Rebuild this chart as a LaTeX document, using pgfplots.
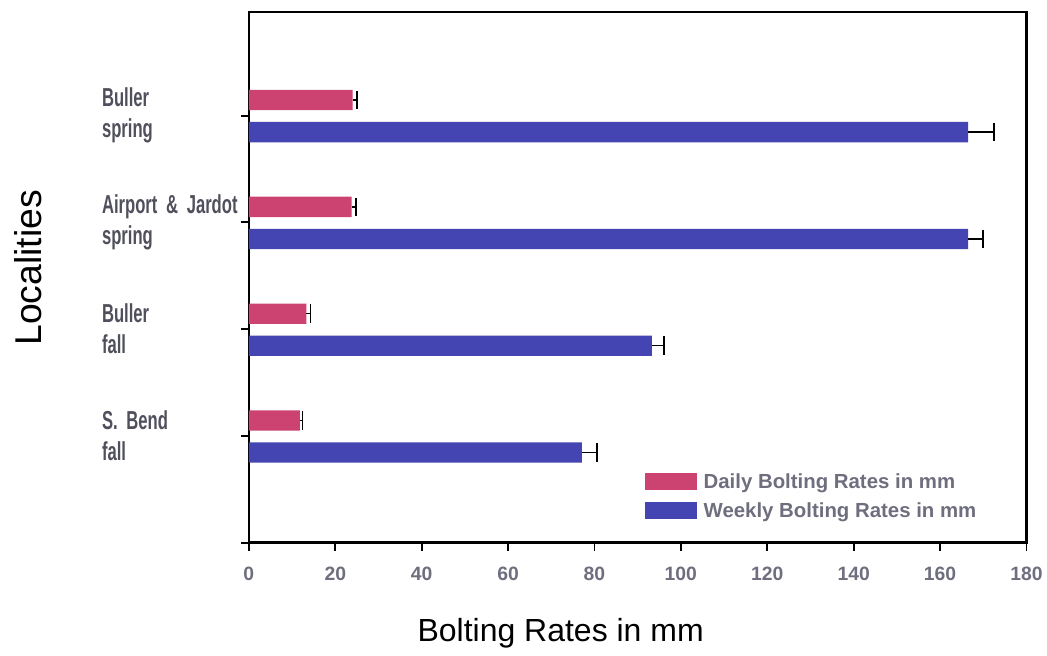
\documentclass[border=0pt]{standalone}
\usepackage{fontspec}
\setmainfont{Liberation Sans}
\newfontfamily\catfont[FakeStretch=0.64]{Liberation Sans}
\usepackage{pgfplots}
\pgfplotsset{compat=1.18}
\definecolor{pinkc}{RGB}{204,66,112}
\definecolor{bluec}{RGB}{68,68,178}
\definecolor{tickc}{RGB}{110,110,126}
\definecolor{catc}{RGB}{80,80,92}
\newcommand{\catstyle}{\fontsize{19.5}{23.25}\catfont\bfseries}
\begin{document}
\begin{tikzpicture}
\begin{axis}[name=ax,
  width=583.5pt, height=398.25pt, scale only axis,
  xmin=0, xmax=180, ymin=0, ymax=4.97,
  xtick={0,20,...,180},
  ytick={0,1,2,3,4},
  yticklabels={,S.~Bend\\fall,Buller\\fall,Airport~\&~Jardot\\spring,Buller\\spring},
  tick align=outside, tick pos=left,
  major tick length=6pt,
  axis line style={line width=1.9pt},
  every tick/.style={black,line width=1.4pt},
  /pgf/number format/assume math mode=true,
  xticklabel style={font=\fontsize{14.5}{16}\selectfont\bfseries, text=tickc, yshift=-9pt},
  yticklabel style={font=\catstyle, text=catc, align=left, text width=104pt, anchor=east, inner sep=0pt},
  xlabel={Bolting Rates in mm}, ylabel={Localities},
  xlabel style={font=\fontsize{24}{28}\selectfont, at={(axis description cs:0.401,-0.1864)}, anchor=base},
  ylabel style={font=\fontsize{28}{32}\selectfont, at={(axis description cs:-0.284,0.518)}, anchor=center},
  legend style={at={(axis description cs:0.504,0.141)}, anchor=north west, draw=none, fill=none,
    font=\fontsize{15.3}{17}\selectfont\bfseries, text=tickc, row sep=5pt,
    /tikz/every odd column/.style={column sep=3pt}},
  legend cell align=left,
  legend image code/.code={\fill[#1] (0pt,-6.4pt) rectangle (39pt,6.4pt);},
]
\addplot[xbar, fill=pinkc, draw=none, bar width=0.19, bar shift=0,
  error bars/.cd, x dir=plus, x explicit,
  error bar style={black,line width=1.2pt},
  error mark options={black, line width=1.2pt, mark size=7pt, rotate=90}]
  coordinates {(11.8,1.145) +- (0.6,0) (13.3,2.145) +- (1,0) (23.8,3.145) +- (1,0) (24,4.145) +- (1,0)};
\addplot[xbar, fill=bluec, draw=none, bar width=0.19, bar shift=0,
  error bars/.cd, x dir=plus, x explicit,
  error bar style={black,line width=1.2pt},
  error mark options={black, line width=1.2pt, mark size=7pt, rotate=90}]
  coordinates {(77.1,0.845) +- (3.5,0) (93.3,1.845) +- (2.8,0) (166.5,2.845) +- (3.5,0) (166.5,3.845) +- (6,0)};
\legend{Daily Bolting Rates in mm, Weekly Bolting Rates in mm}
\end{axis}
\path ([shift={(-186.75pt,-84.75pt)}]ax.south west) rectangle ([shift={(15pt,9pt)}]ax.north east);
\end{tikzpicture}
\end{document}
